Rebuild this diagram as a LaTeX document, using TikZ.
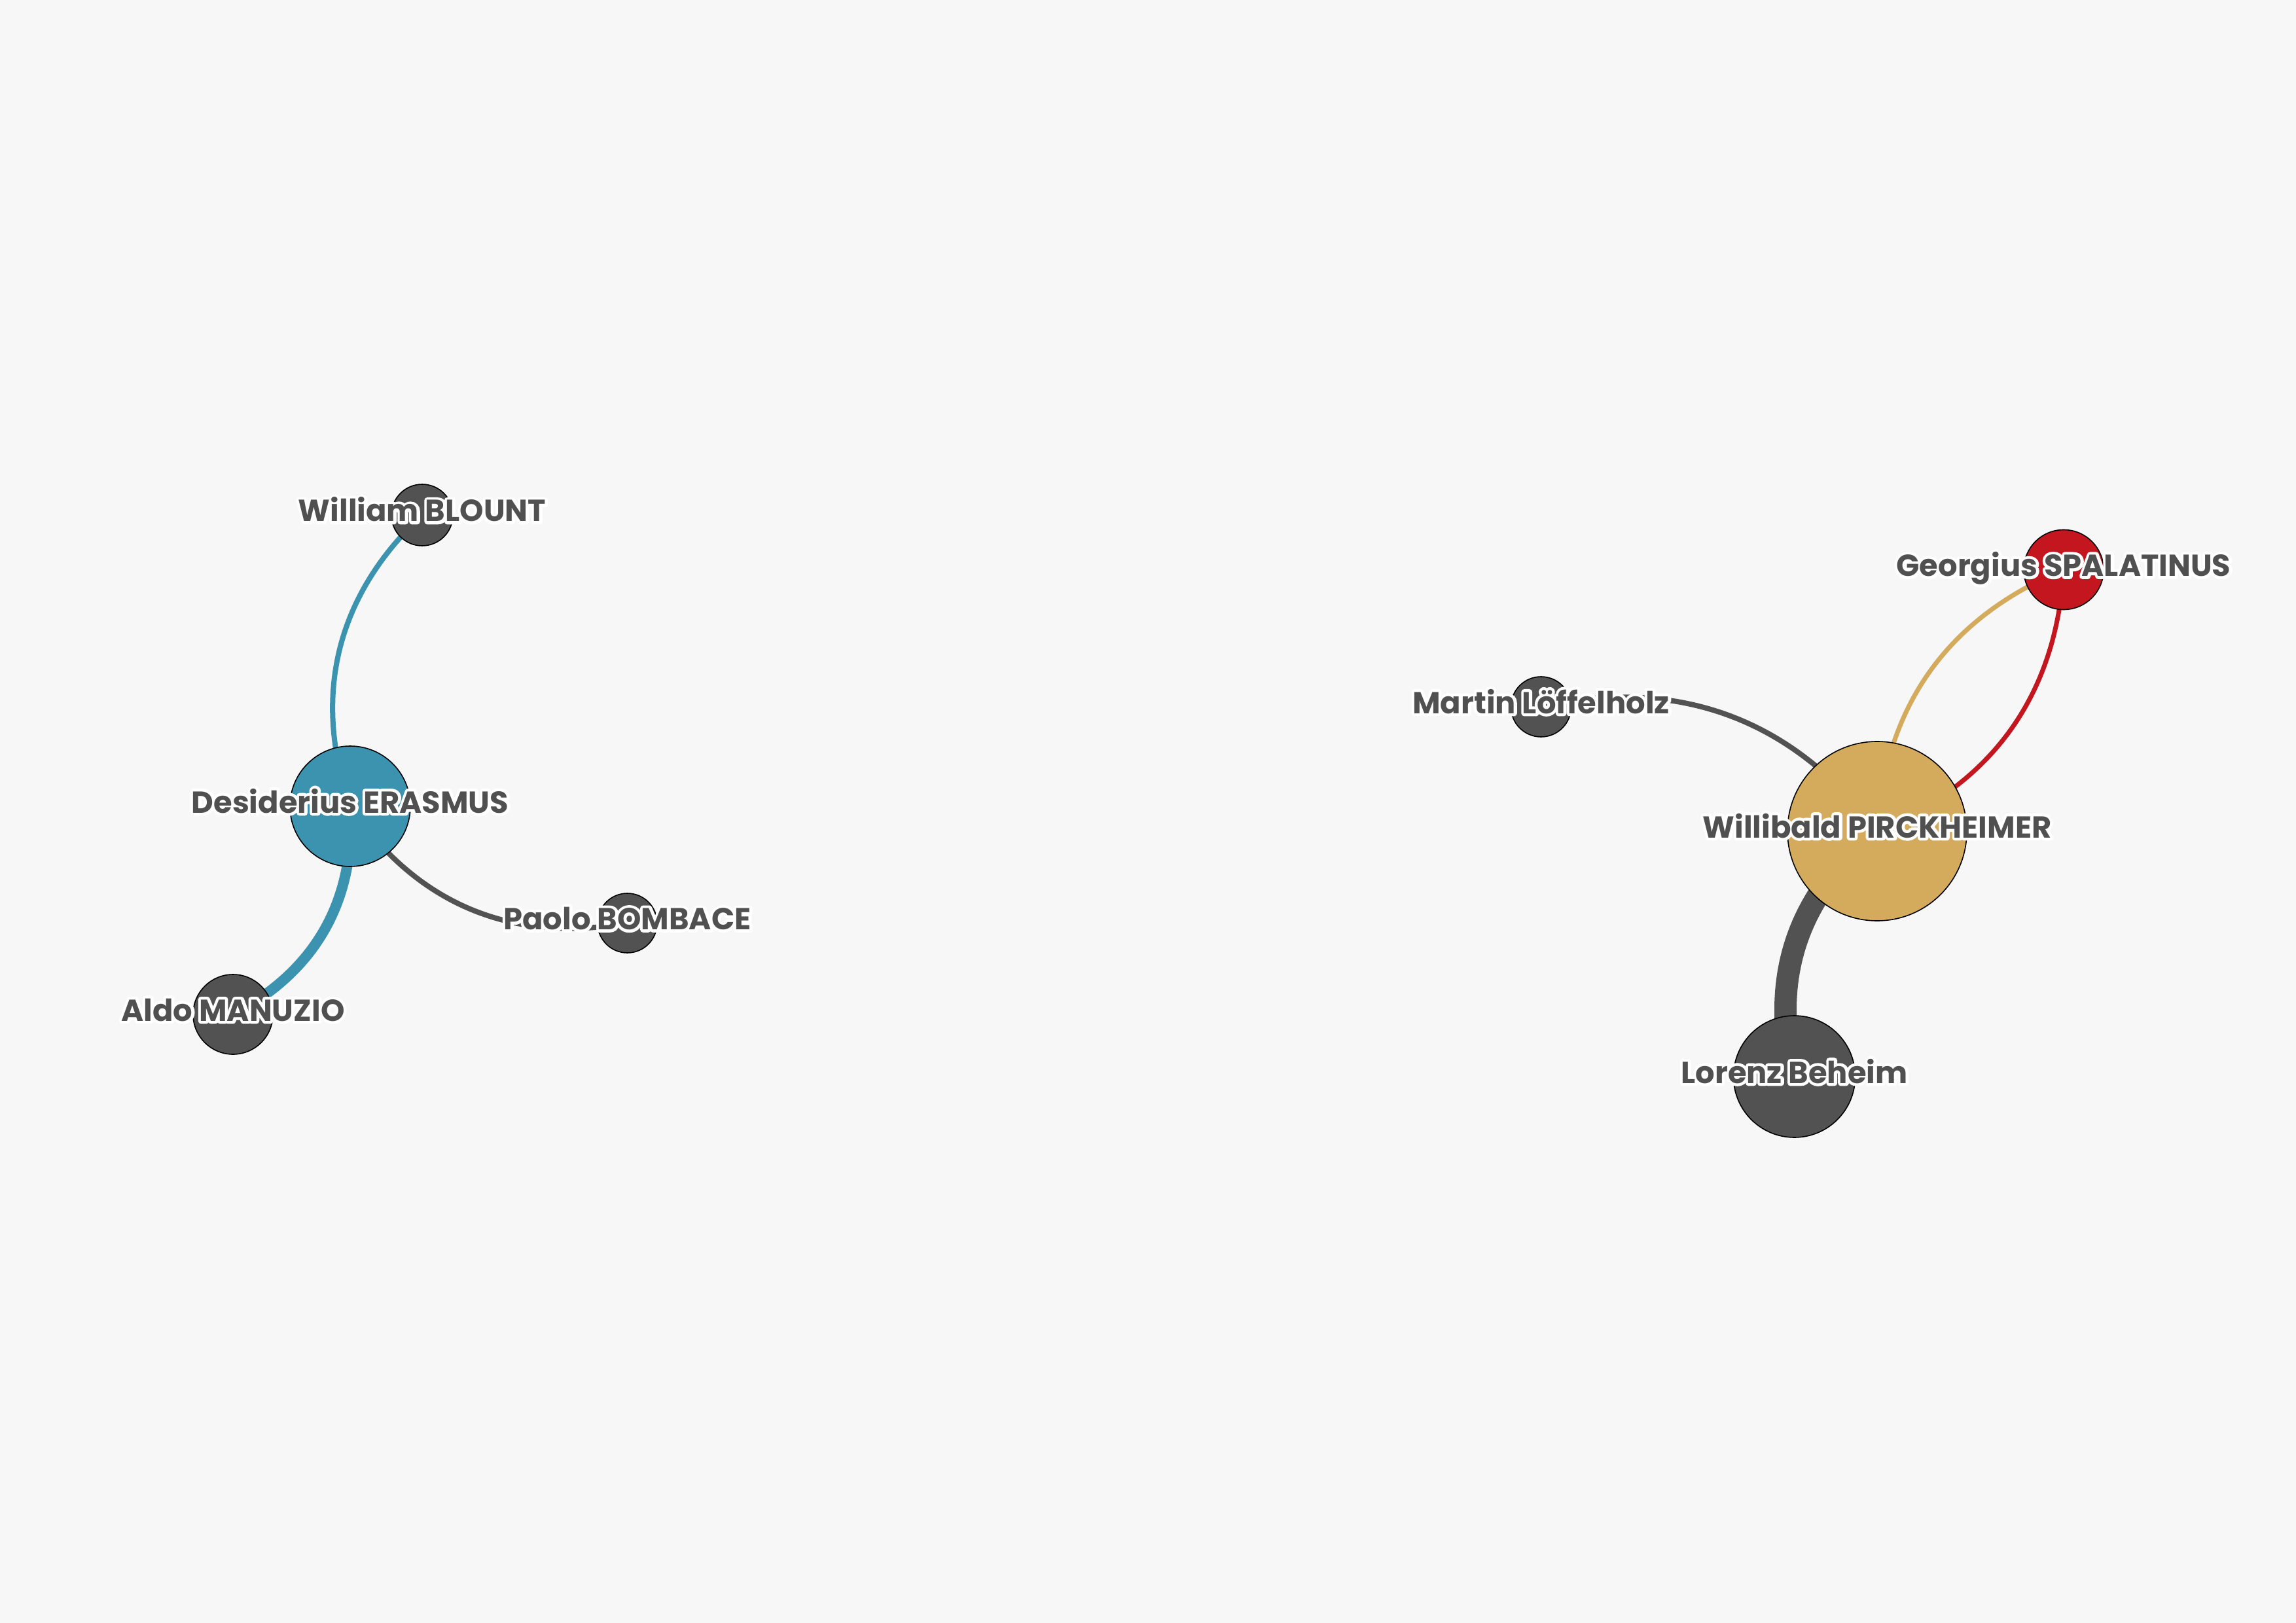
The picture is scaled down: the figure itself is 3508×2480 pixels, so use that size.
\documentclass[tikz,border=0pt]{standalone}
\usepackage{fontspec}
\setmainfont{Poppins}
\newfontfamily\halofont{Poppins}[BoldFeatures={FakeBold=19}]
\pgfdeclarelayer{bg}
\pgfsetlayers{bg,main}
\definecolor{bgc}{HTML}{F7F7F7}
\definecolor{grayc}{HTML}{525252}
\definecolor{bluec}{HTML}{3C93B0}
\definecolor{goldc}{HTML}{D4AA5C}
\definecolor{redc}{HTML}{C3161F}
\definecolor{txtc}{HTML}{505050}
\tikzset{
  person/.style={circle, draw=black, line width=0.4pt, inner sep=0pt, minimum size=#1},
  lbl/.style={anchor=base, text=txtc, inner sep=0pt, font=\bfseries\fontsize{11.6pt}{12pt}\selectfont},
  halo/.style={anchor=base, text=white, inner sep=0pt, line join=round, font=\halofont\bfseries\fontsize{11.6pt}{12pt}\selectfont},
  link/.style={line width=#1},
}
\begin{document}
\begin{tikzpicture}[x=0.25pt,y=-0.25pt]
\useasboundingbox (0,0) rectangle (3508,2480);
% nodes
\node[person=23.5pt, fill=grayc] (blount) at (645,787) {};
\node[person=46pt, fill=bluec] (erasmus) at (535,1232) {};
\node[person=22.75pt, fill=grayc] (bombace) at (958.5,1410.5) {};
\node[person=30.5pt, fill=grayc] (manuzio) at (356,1550) {};
\node[person=23pt, fill=grayc] (loeffelholz) at (2354.5,1080) {};
\node[person=30.5pt, fill=redc] (spalatinus) at (3153,870.5) {};
\node[person=68.5pt, fill=goldc] (pirckheimer) at (2868,1270) {};
\node[person=46.5pt, fill=grayc] (beheim) at (2741.5,1645) {};
% background and edges
\begin{pgfonlayer}{bg}
\fill[bgc] (0,0) rectangle (3508,2480);
\draw[link=2pt, bluec] (erasmus.center) to[bend left=33] (blount.center);
\draw[link=4pt, bluec] (erasmus.center) to[bend left=33] (manuzio.center);
\draw[link=2pt, grayc] (erasmus.center) to[bend right=33] (bombace.center);
\draw[link=8.5pt, grayc] (pirckheimer.center) to[bend right=33] (beheim.center);
\draw[link=2pt, grayc] (pirckheimer.center) to[bend right=33] (loeffelholz.center);
\draw[link=1.75pt, goldc] (pirckheimer.center) to[bend left=32] (spalatinus.center);
\draw[link=1.75pt, redc] (pirckheimer.center) to[bend right=32] (spalatinus.center);
\end{pgfonlayer}
% label halos
\node[halo] (blount-h) at ([yshift=-2.5pt]blount.center) {William BLOUNT};
\node[halo] (erasmus-h) at ([yshift=-2.5pt]erasmus.center) {Desiderius ERASMUS};
\node[halo] (bombace-h) at ([yshift=-2.5pt]bombace.center) {Paolo BOMBACE};
\node[halo] (manuzio-h) at ([yshift=-2.5pt]manuzio.center) {Aldo MANUZIO};
\node[halo] (loeffelholz-h) at ([yshift=-2.5pt]loeffelholz.center) {Martin Löffelholz};
\node[halo] (spalatinus-h) at ([yshift=-2.5pt]spalatinus.center) {Georgius SPALATINUS};
\node[halo] (pirckheimer-h) at ([yshift=-2.5pt]pirckheimer.center) {Willibald PIRCKHEIMER};
\node[halo] (beheim-h) at ([yshift=-2.5pt]beheim.center) {Lorenz Beheim};
% labels
\node[lbl] (blount-l) at ([yshift=-2.5pt]blount.center) {William BLOUNT};
\node[lbl] (erasmus-l) at ([yshift=-2.5pt]erasmus.center) {Desiderius ERASMUS};
\node[lbl] (bombace-l) at ([yshift=-2.5pt]bombace.center) {Paolo BOMBACE};
\node[lbl] (manuzio-l) at ([yshift=-2.5pt]manuzio.center) {Aldo MANUZIO};
\node[lbl] (loeffelholz-l) at ([yshift=-2.5pt]loeffelholz.center) {Martin Löffelholz};
\node[lbl] (spalatinus-l) at ([yshift=-2.5pt]spalatinus.center) {Georgius SPALATINUS};
\node[lbl] (pirckheimer-l) at ([yshift=-2.5pt]pirckheimer.center) {Willibald PIRCKHEIMER};
\node[lbl] (beheim-l) at ([yshift=-2.5pt]beheim.center) {Lorenz Beheim};
\end{tikzpicture}
\end{document}
